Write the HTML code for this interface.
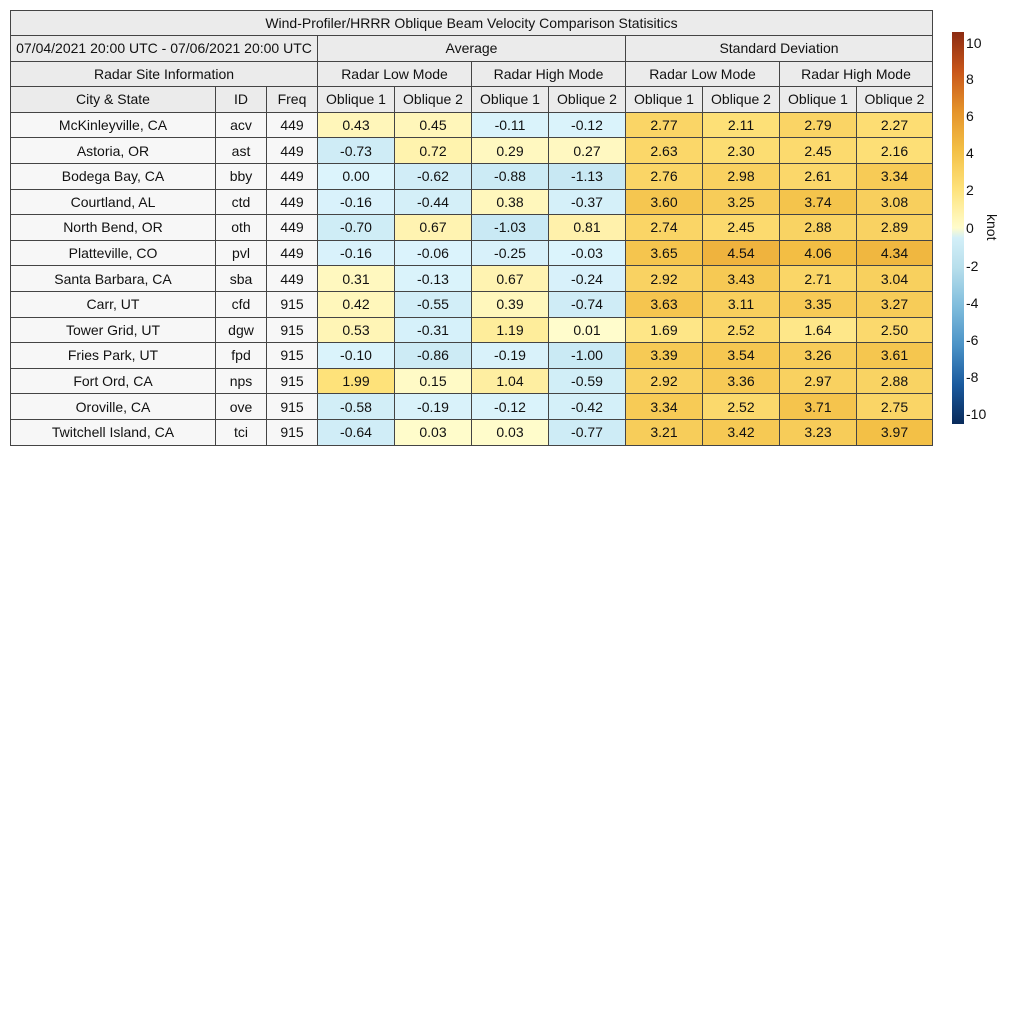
<!DOCTYPE html>
<html><head><meta charset="utf-8"><style>
body{margin:0;background:#fff;width:1024px;height:1024px;position:relative;font-family:"Liberation Sans",sans-serif;font-size:14px;color:#111}
table{position:absolute;left:10px;top:10px;border-collapse:collapse;table-layout:fixed;width:922px}
td{border:1px solid #444;text-align:center;padding:0;height:24.6px;overflow:hidden;white-space:nowrap}
.h{background:#ebebeb}
.c{background:#f7f7f7}
#cb{position:absolute;left:952px;top:32px;width:12px;height:392px}
.tk{position:absolute;left:966px;font-size:14px;line-height:14px}
#kn{position:absolute;left:999px;top:214px;transform:rotate(90deg);transform-origin:left top;font-size:14px;line-height:14px}
</style></head><body>
<table id="t">
<colgroup><col style="width:205px"><col style="width:51px"><col style="width:51px"><col style="width:77px"><col style="width:77px"><col style="width:77px"><col style="width:77px"><col style="width:77px"><col style="width:77px"><col style="width:77px"><col style="width:76px"></colgroup>
<tr><td class="h" colspan="11" style="height:24px">Wind-Profiler/HRRR Oblique Beam Velocity Comparison Statisitics</td></tr>
<tr><td class="h" colspan="3">07/04/2021 20:00 UTC - 07/06/2021 20:00 UTC</td><td class="h" colspan="4">Average</td><td class="h" colspan="4">Standard Deviation</td></tr>
<tr><td class="h" colspan="3">Radar Site Information</td><td class="h" colspan="2">Radar Low Mode</td><td class="h" colspan="2">Radar High Mode</td><td class="h" colspan="2">Radar Low Mode</td><td class="h" colspan="2">Radar High Mode</td></tr>
<tr><td class="h">City &amp; State</td><td class="h">ID</td><td class="h">Freq</td><td class="h">Oblique 1</td><td class="h">Oblique 2</td><td class="h">Oblique 1</td><td class="h">Oblique 2</td><td class="h">Oblique 1</td><td class="h">Oblique 2</td><td class="h">Oblique 1</td><td class="h">Oblique 2</td></tr>
</table>
<div id="cb"></div>
<div class="tk" style="top:36px">10</div><div class="tk" style="top:72px">8</div><div class="tk" style="top:109px">6</div><div class="tk" style="top:146px">4</div><div class="tk" style="top:183px">2</div><div class="tk" style="top:221px">0</div><div class="tk" style="top:259px">-2</div><div class="tk" style="top:296px">-4</div><div class="tk" style="top:333px">-6</div><div class="tk" style="top:370px">-8</div><div class="tk" style="top:407px">-10</div>
<div id="kn">knot</div>
<script>
var pos=[[0,'fffccc'],[2,'fee27a'],[4,'f3bf45'],[6,'e4922a'],[8,'c8561a'],[10,'8c2b12']];
var neg=[[0,'dcf4fc'],[2,'b8dfec'],[4,'7fbcdc'],[6,'4a92c6'],[8,'1a5a9e'],[10,'082a5a']];
function h2(s){return[parseInt(s.substr(0,2),16),parseInt(s.substr(2,2),16),parseInt(s.substr(4,2),16)]}
function col(v){var m=v>0?pos:neg,a=Math.min(Math.abs(v),10);for(var i=0;i<5;i++){if(a<=m[i+1][0]){var f=(a-m[i][0])/2,x=h2(m[i][1]),y=h2(m[i+1][1]);return'rgb('+x.map(function(c,k){return Math.round(c+(y[k]-c)*f)}).join(',')+')'}}}
var d=[["McKinleyville, CA","acv",449,.43,.45,-.11,-.12,2.77,2.11,2.79,2.27],
["Astoria, OR","ast",449,-.73,.72,.29,.27,2.63,2.30,2.45,2.16],
["Bodega Bay, CA","bby",449,0,-.62,-.88,-1.13,2.76,2.98,2.61,3.34],
["Courtland, AL","ctd",449,-.16,-.44,.38,-.37,3.60,3.25,3.74,3.08],
["North Bend, OR","oth",449,-.70,.67,-1.03,.81,2.74,2.45,2.88,2.89],
["Platteville, CO","pvl",449,-.16,-.06,-.25,-.03,3.65,4.54,4.06,4.34],
["Santa Barbara, CA","sba",449,.31,-.13,.67,-.24,2.92,3.43,2.71,3.04],
["Carr, UT","cfd",915,.42,-.55,.39,-.74,3.63,3.11,3.35,3.27],
["Tower Grid, UT","dgw",915,.53,-.31,1.19,.01,1.69,2.52,1.64,2.50],
["Fries Park, UT","fpd",915,-.10,-.86,-.19,-1.00,3.39,3.54,3.26,3.61],
["Fort Ord, CA","nps",915,1.99,.15,1.04,-.59,2.92,3.36,2.97,2.88],
["Oroville, CA","ove",915,-.58,-.19,-.12,-.42,3.34,2.52,3.71,2.75],
["Twitchell Island, CA","tci",915,-.64,.03,.03,-.77,3.21,3.42,3.23,3.97]];
var t=document.getElementById('t'),s='';
d.forEach(function(r){s+='<tr><td class="c">'+r[0]+'</td><td class="c">'+r[1]+'</td><td class="c">'+r[2]+'</td>';
for(var i=3;i<11;i++)s+='<td style="background:'+col(r[i])+'">'+r[i].toFixed(2)+'</td>';s+='</tr>'});
t.insertAdjacentHTML('beforeend',s);
var g=[];for(var v=10;v>=-10;v-=0.5)g.push(col(v===0?0.001:v)+' '+((10-v)/20*100)+'%');
document.getElementById('cb').style.background='linear-gradient(to bottom,'+g.join(',')+')';
</script>
</body></html>
